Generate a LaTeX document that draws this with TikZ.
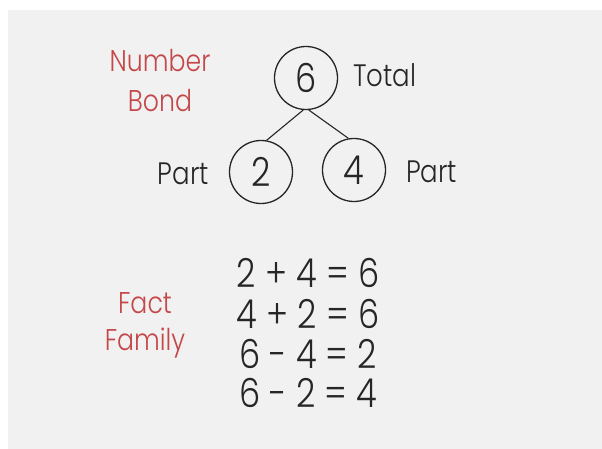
\documentclass[tikz,border=0pt]{standalone}
\usepackage{fontspec}
\setmainfont{Poppins Light}
\definecolor{bg}{HTML}{F1F1F1}
\definecolor{redlab}{HTML}{C4474A}
\definecolor{ink}{HTML}{262626}
\newcommand{\narrow}[1]{\scalebox{0.84}[1]{#1}}
\begin{document}
\begin{tikzpicture}[x=1pt,y=-1pt,
  bubble/.style={circle,draw=ink,line width=1.3pt,minimum size=63pt,inner sep=0pt,text=ink,font=\fontsize{40}{40}\selectfont},
  lab/.style={text=ink,font=\fontsize{31}{31}\selectfont,inner sep=0pt},
  redtxt/.style={text=redlab,font=\fontsize{30}{30}\selectfont,inner sep=0pt,anchor=base},
  eq/.style={text=ink,font=\fontsize{40}{40}\selectfont,inner sep=0pt,anchor=base},
  link/.style={draw=ink,line width=1.1pt}]
\useasboundingbox (0,0) rectangle (602,449);
\fill[white] (0,0) rectangle (602,449);
\fill[bg] (8,10) rectangle (602,449);
\node[bubble] (six) at (306,78) {\narrow{6}};
\node[bubble] (two) at (261,172) {\narrow{2}};
\node[bubble] (four) at (354,170) {\narrow{4}};
\draw[link] (six.-95) -- (two.80);
\draw[link] (six.-85) -- (four.100);
\node[lab,anchor=base west] (total) at (353,87) {\narrow{Total}};
\node[lab,anchor=base east] (partl) at (209,185) {\narrow{Part}};
\node[lab,anchor=base west] (partr) at (406,183) {\narrow{Part}};
\node[redtxt] (nb1) at (160,72) {\narrow{Number}};
\node[redtxt] (nb2) at (160,112) {\narrow{Bond}};
\node[redtxt] (ff1) at (145,313) {\narrow{Fact}};
\node[redtxt] (ff2) at (145,350) {\narrow{Family}};
\node[eq] (e1) at (308,287) {\narrow{2 + 4 = 6}};
\node[eq] (e2) at (308,328) {\narrow{4 + 2 = 6}};
\node[eq] (e3) at (308,368) {\narrow{6 - 4 = 2}};
\node[eq] (e4) at (308,407) {\narrow{6 - 2 = 4}};
\end{tikzpicture}
\end{document}
